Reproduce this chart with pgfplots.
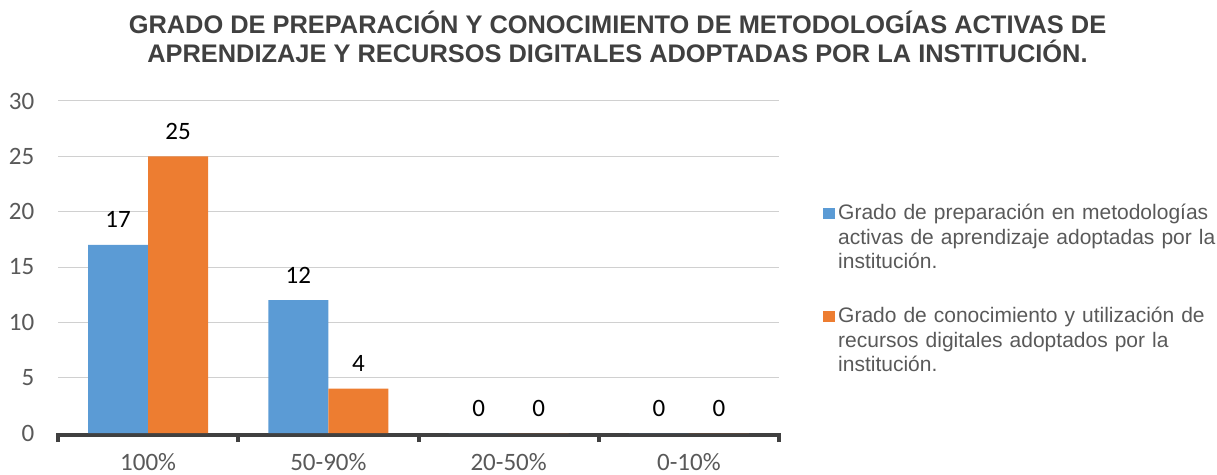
\documentclass[border=0pt]{standalone}
\usepackage{fontspec}
\setmainfont{Carlito}
\newfontfamily\arial{Liberation Sans}
\usepackage{pgfplots}
\pgfplotsset{compat=1.18}
\definecolor{cblue}{HTML}{5B9BD5}
\definecolor{corange}{HTML}{ED7D31}
\definecolor{cgrid}{HTML}{D0D0D0}
\definecolor{caxis}{HTML}{404040}
\definecolor{ctext}{HTML}{595959}
\definecolor{ctitle}{HTML}{404040}
\pgfplotsset{sqlegend/.style={legend image code/.code={\fill[##1] (0pt,1pt) rectangle (12pt,12pt);}}}
\begin{document}
\begin{tikzpicture}
\useasboundingbox (0,0) rectangle (1217pt,474pt);
\node[anchor=base, inner sep=0pt, text=ctitle, font=\arial\bfseries\fontsize{25.4}{25.4}\selectfont] at (617.5pt,440.7pt) {GRADO DE PREPARACIÓN Y CONOCIMIENTO DE METODOLOGÍAS ACTIVAS DE};
\node[anchor=base, inner sep=0pt, text=ctitle, font=\arial\bfseries\fontsize{25.4}{25.4}\selectfont] at (617.5pt,411.3pt) {APRENDIZAJE Y RECURSOS DIGITALES ADOPTADAS POR LA INSTITUCIÓN.};
\begin{axis}[
  at={(58pt,41pt)}, anchor=south west,
  scale only axis, width=721pt, height=332pt,
  ybar=0pt, bar width=60pt,
  xmin=-0.5, xmax=3.5, ymin=0, ymax=30,
  xtick={0,1,2,3}, xticklabels={100\%,50-90\%,20-50\%,0-10\%},
  ytick={0,5,10,15,20,25,30},
  /pgf/number format/assume math mode=true,
  axis x line*=bottom, axis y line*=left,
  y axis line style={draw=none},
  x axis line style={draw=caxis, line width=4pt, yshift=-2pt, -},
  ytick style={draw=none},
  xtick style={draw=caxis, line width=4pt},
  major tick length=0pt,
  extra x ticks={-0.5,0.5,1.5,2.5,3.5},
  extra x tick labels={},
  extra x tick style={tick align=outside, major tick length=9pt},
  ymajorgrids, grid style={draw=cgrid, line width=1pt},
  ticklabel style={font=\fontsize{25}{25}\selectfont, text=ctext, inner sep=0pt},
  yticklabel style={anchor=east, xshift=-23.5pt},
  xticklabel style={anchor=base, yshift=-37pt},
  nodes near coords,
  every node near coord/.append style={font=\fontsize{25}{25}\selectfont, text=black, anchor=base, inner sep=0pt, yshift=17pt},
  clip=false,
  every axis legend/.style={at={(1.061,0.689)}, anchor=north west, draw=none, fill=none, inner sep=0pt, row sep=38.7pt, column sep=3pt, cells={anchor=base west}, nodes={inner sep=0pt, text width=380pt, align=left, font=\arial\fontsize{21}{24.3}\selectfont, text=ctext}},
]
\addplot[fill=cblue, draw=none, sqlegend] coordinates {(0,17) (1,12) (2,0) (3,0)};
\addlegendentry{Grado de preparación en metodologías\\activas de aprendizaje adoptadas por la\\institución.}
\addplot[fill=corange, draw=none, sqlegend] coordinates {(0,25) (1,4) (2,0) (3,0)};
\addlegendentry{Grado de conocimiento y utilización de\\recursos digitales adoptados por la\\institución.}
\end{axis}
\end{tikzpicture}
\end{document}
